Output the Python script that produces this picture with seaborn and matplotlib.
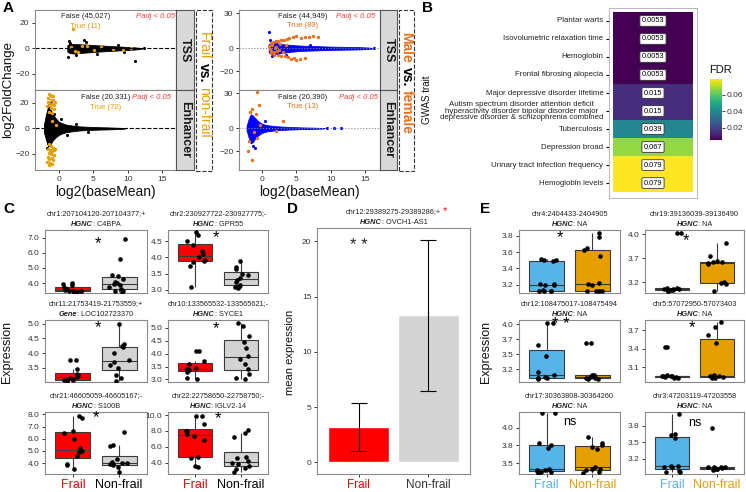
import numpy as np
import pandas as pd
import matplotlib
matplotlib.use("Agg")
import matplotlib.pyplot as plt
import seaborn as sns
from matplotlib.patches import Rectangle

# ---------------- panel A: MA plots (dense cloud = envelope, plus visible points) ----------------
fr_tss_env_x = [1.2, 1.5, 2, 3, 4, 5, 6, 7, 8, 9, 10, 11, 12]
fr_tss_env_hi = [2.5, 3.5, 3.5, 3.2, 3, 2.6, 2.3, 2, 1.7, 1.4, 1.1, 0.8, 0.3]
fr_tss_env_lo = [-2.5, -3.5, -4, -3.6, -3.2, -2.8, -2.4, -2.1, -1.8, -1.5, -1.2, -0.9, -0.3]
fr_tss_pts_x = [1.3, 1.6, 2.5, 3.6, 3.9, 1.4, 11.1, 5.5, 8.5, 12.3, 9.4]
fr_tss_pts_y = [-7, 4.5, -5, 6.5, 5, 5.5, -10, -4, 2.5, 0.5, -2.5]
fr_tss_true_x = [2.0, 2.8, 7.9, 9.3, 4.0, 5.1, 3.3, 6.1, 2.3, 1.8, 10.4]
fr_tss_true_y = [15, -3, -0.7, -1, 2, -1.5, 1.5, 1, -2, 1, 0.5]

fr_enh_env_x = [-2.2, -1.9, -1.6, -1.3, -1.0, -0.5, 0, 0.5, 1, 2, 3, 4, 5, 6, 7, 8, 9, 9.6]
fr_enh_env_hi = [3, 11, 17, 16, 12, 8, 5, 4, 3, 2.2, 1.6, 1.3, 1.1, 0.9, 0.8, 0.6, 0.4, 0.1]
fr_enh_env_lo = [-3, -9, -14, -13, -10, -7, -5, -3.8, -3, -2.2, -1.6, -1.3, -1.1, -0.9, -0.8, -0.6, -0.4, -0.1]
fr_enh_pts_x = [-1.5, -1.2, -1.8, 0.3, 1.2, 2.5, -0.7, 4.2]
fr_enh_pts_y = [19, 20, -15, 7, -5, 3.5, 11, -2.5]
fr_enh_true_x = [-1.5, -1.3, -1.1, -1.6, -1.2, -0.9, -1.4, -1.0, -0.7, -1.7, -1.2, -0.8, -1.5,
                 -1.0, -0.6, -1.3, -1.6, -0.9, -1.5, -1.2, -0.9, -1.6, -1.3, -1.0, -0.7, -1.5,
                 -1.2, -0.8, -1.6, -1.1, -1.4, -0.9, -1.7, -1.3, -1.0, -1.5, -1.2, -0.6, -1.0, -0.5]
fr_enh_true_y = [27, 26, 25.5, 24, 22, 22, 20, 19, 18, 17.5, 16, 15, 13, 12, 21, 18.5, 21, 25,
                 -12, -14, -15, -16, -17, -18, -17, -19, -20, -21, -22, -23, -24, -25, -26, -27,
                 -28, -28.5, -18.5, -16, 6, 3]

mf_tss_env_x = [1.0, 1.3, 2, 3, 4, 5, 6, 8, 10, 12, 14, 15.5, 16]
mf_tss_env_hi = [3.5, 5, 4.5, 3.5, 3, 2.5, 2.2, 1.8, 1.4, 1.2, 1, 0.6, 0.2]
mf_tss_env_lo = [-3.5, -5, -5, -4, -3.2, -2.6, -2.2, -1.8, -1.4, -1.2, -1, -0.6, -0.2]
mf_tss_pts_x = [1.0, 1.2, 1.5, 2.0, 16.3, 3.5, 7.0]
mf_tss_pts_y = [14, 7, -7, 6.5, 0, -5.5, 3]
mf_tss_true_x = [1.3, 1.6, 2.0, 2.4, 2.8, 3.2, 3.6, 4.0, 4.5, 5.0, 5.6, 6.2, 6.8, 7.4, 8.1,
                 1.4, 1.8, 2.3, 2.8, 3.3, 3.8, 4.2, 4.6, 5.0, 5.5, 6.2,
                 1.1, 1.3, 1.5, 1.7, 2.0, 2.2, 2.6, 3.0, 1.2, 1.9, 2.5, 3.5]
mf_tss_true_y = [4.5, 5.5, 6, 6.5, 7, 7.5, 8, 9, 9.5, 10.5, 9, 9.5, 10, 11, 10,
                 -4.5, -5.5, -6, -6.5, -7, -7.5, -9, -8.5, -10, -9, -8,
                 2, -2, 3, -3, 1.5, -2.5, 3.5, -3.5, -1, 0.5, -1.5, 2.5]

mf_enh_env_x = [-2.2, -1.9, -1.6, -1.3, -1.0, -0.5, 0, 0.5, 1, 2, 3, 4, 5, 6, 7, 8, 9]
mf_enh_env_hi = [2, 8, 12, 11, 9, 6, 4, 3, 2.5, 1.8, 1.4, 1.1, 0.9, 0.7, 0.6, 0.4, 0.2]
mf_enh_env_lo = [-2, -8, -13, -12, -9, -6, -4, -3, -2.5, -1.8, -1.4, -1.1, -0.9, -0.7, -0.6, -0.4, -0.2]
mf_enh_pts_x = [-1.3, -1.0, 9.5, 10.5, 11.5, 0.5]
mf_enh_pts_y = [-15, -17, 0, 0, 0.2, 6]
mf_enh_true_x = [-0.7, -0.45, -1.4, -1.7, -0.9, 3.1, -2.0, -1.4, -1.8, -0.7, -1.2, -0.3, 2.0]
mf_enh_true_y = [31, 20, 16.5, 14, 12, 6.5, -20, -27, -11, -8, -3, 3, -2]

# ---------------- panel B: GWAS enrichment ----------------
gwas_traits = ["Plantar warts", "Isovolumetric relaxation time", "Hemoglobin",
               "Frontal fibrosing alopecia", "Major depressive disorder lifetime",
               "Autism spectrum disorder attention deficit\nhyperactivity disorder bipolar disorder major\n"
               "depressive disorder & schizophrenia combined",
               "Tuberculosis", "Depression broad", "Urinary tract infection frequency", "Hemoglobin levels"]
gwas_fdr = [0.0053, 0.0053, 0.0053, 0.0053, 0.015, 0.015, 0.039, 0.067, 0.079, 0.079]

# ---------------- panel C: frail vs non-frail boxplots ----------------
c_titles = ["chr1:207104120-207104377;+", "chr2:230927722-230927775;-",
            "chr11:21753419-21753559;+", "chr10:133565532-133565621;-",
            "chr21:46605059-46605167;-", "chr22:22758650-22758750;-"]
c_gene_src = ["HGNC", "HGNC", "Gene", "HGNC", "HGNC", "HGNC"]
c_genes = ["C4BPA", "GPR55", "LOC102723370", "SYCE1", "S100B", "IGLV2-14"]
c11_frail = [3.42, 3.43, 3.45, 3.45, 3.48, 3.5, 3.55, 3.6, 3.75, 3.85, 3.95, 4.0]
c11_non = [3.42, 3.45, 3.5, 3.6, 3.75, 3.9, 3.95, 4.0, 4.1, 4.3, 4.45, 4.55, 5.6, 6.9]
c12_frail = [3.1, 3.75, 3.85, 3.9, 3.92, 4.0, 4.1, 4.2, 4.4, 4.5, 4.7, 4.8]
c12_non = [3.05, 3.1, 3.12, 3.15, 3.25, 3.3, 3.35, 3.45, 3.5, 3.65, 3.7, 3.9]
c21_frail = [3.05, 3.08, 3.1, 3.1, 3.12, 3.15, 3.2, 3.25, 3.3, 3.45, 3.75, 3.78]
c21_non = [3.05, 3.15, 3.25, 3.5, 3.6, 3.7, 3.75, 4.0, 4.2, 4.25, 4.3, 5.0]
c22_frail = [3.0, 3.05, 3.3, 3.35, 3.35, 3.4, 3.4, 3.45, 3.6, 3.7, 4.1, 4.1]
c22_non = [3.0, 3.05, 3.2, 3.4, 3.6, 3.8, 3.9, 4.2, 4.45, 4.7, 5.05, 5.2]
c31_frail = [3.5, 3.8, 3.9, 4.6, 4.9, 5.0, 5.2, 6.0, 6.5, 6.6, 7.7, 7.9]
c31_non = [3.3, 3.7, 3.8, 3.9, 3.95, 4.0, 4.0, 4.1, 4.35, 5.4, 5.45, 6.55]
c32_frail = [3.4, 3.5, 4.6, 4.7, 6.8, 7.3, 7.6, 8.0, 8.0, 8.9, 9.9, 9.9]
c32_non = [2.8, 3.2, 3.3, 3.6, 3.8, 4.0, 4.2, 4.6, 4.7, 7.2, 7.8, 8.1]
c_marks = ["*", "*", "*", "*", "*", "*"]

# ---------------- panel D: mean expression ----------------
d_title = "chr12:29389275-29389286;+"
d_gene = "OVCH1-AS1"
d_groups = ["Frail", "Non-frail"]
d_means = [3.2, 13.3]
d_low = [1.07, 6.5]
d_high = [5.35, 20.1]

# ---------------- panel E: frail vs non-frail (second set) ----------------
e_titles = ["chr4:2404433-2404905", "chr19:39136039-39136490", "chr12:108475017-108475494",
            "chr5:57072950-57073403", "chr17:30363808-30364260", "chr3:47203119-47203558"]
e_genes = ["NA"] * 6
e11_frail = [3.12, 3.12, 3.13, 3.13, 3.14, 3.2, 3.2, 3.21, 3.21, 3.49, 3.5, 3.5, 3.51]
e11_non = [3.12, 3.12, 3.12, 3.13, 3.2, 3.21, 3.22, 3.55, 3.62, 3.65, 3.78, 3.83]
e12_frail = [3.06, 3.06, 3.07, 3.07, 3.08, 3.08, 3.09, 3.1, 3.1, 4.02, 4.02]
e12_non = [3.06, 3.17, 3.18, 3.2, 3.5, 3.52, 3.53, 3.54, 3.55, 3.63, 3.85]
e21_frail = [3.97, 3.97, 3.6, 3.43, 3.15, 3.1, 3.08, 3.06, 3.05, 3.05, 3.04]
e21_non = [3.63, 3.63, 3.1, 3.1, 3.08, 3.07, 3.06, 3.05, 3.04, 3.04]
e22_frail = [3.43, 3.43, 2.97, 2.96, 2.96, 2.95, 2.95, 2.94, 2.94, 2.93, 2.93]
e22_non = [3.84, 3.76, 3.62, 3.5, 2.97, 2.96, 2.95, 2.95, 2.94, 2.93, 2.92]
e31_frail = [4.2, 4.2, 3.79, 3.75, 3.72, 3.42, 3.41, 3.4, 3.39, 3.38, 3.38, 3.37]
e31_non = [3.87, 3.78, 3.76, 3.73, 3.7, 3.45, 3.42, 3.42, 3.4, 3.38, 3.37]
e32_frail = [4.02, 3.65, 3.63, 3.57, 3.06, 3.06, 3.05, 3.05, 2.97, 2.96, 2.96]
e32_non = [3.76, 3.05, 3.05, 3.04, 3.04, 3.03, 3.03, 3.02, 3.02, 3.01, 3.0]
e_marks = ["*", "*", "* *", "*", "ns", "ns"]
e_ticklabels = [["3.2", "3.4", "3.6", "3.8"], ["3.2", "3.7", "4.0"], ["3.2", "3.5", "3.7", "4.0"],
                ["3.1", "3.4", "3.7"], ["3.5", "3.8", "4.0"], ["3.2", "3.5", "3.8"]]

# ---------------- colours ----------------
FRAIL_ORANGE = "#E69F00"
SEX_ORANGE = "#E8711D"
PADJ_RED = "#FF3B3B"
C_PAL = ["#FF0000", "#D3D3D3"]
E_PAL = ["#56B4E9", "#E69F00"]
SPINE = "#8a8a8a"

sns.set_theme(style="ticks")
plt.rcParams["font.family"] = ["Liberation Sans", "DejaVu Sans"]

W, H = 746, 492
fig = plt.figure(figsize=(W / 100, H / 100), dpi=100)
np.random.seed(3)  # only for horizontal jitter of points


def px_ax(x0, y0, x1, y1):
    return fig.add_axes([x0 / W, 1 - y1 / H, (x1 - x0) / W, (y1 - y0) / H])


def style(ax):
    for s in ax.spines.values():
        s.set_visible(True)
        s.set_color(SPINE)
        s.set_linewidth(0.8)
    ax.tick_params(labelsize=6, length=2.5, width=0.7, pad=1.5, color="#333333", labelcolor="#333333")


title_pairs = []


def two_line_title(ax, line1, src, gene, fs=5.3):
    t0 = ax.annotate(line1, xy=(0.5, 1), xycoords="axes fraction", xytext=(0, 16),
                     textcoords="offset pixels", ha="center", va="center", fontsize=fs, color="#222222")
    t1 = ax.annotate(src, xy=(0.5, 1), xycoords="axes fraction", xytext=(0, 6),
                     textcoords="offset pixels", ha="right", va="center", fontsize=fs,
                     fontweight="bold", fontstyle="italic", color="#222222")
    t2 = ax.annotate(": " + gene, xy=(1, 0.5), xycoords=t1, ha="left", va="center",
                     fontsize=fs, color="#222222")
    title_pairs.append((t1, t2, 6))
    return t0


# ======== panel A ========
def ma_panel(ax, ex, ehi, elo, px_, py_, tx, ty, cloud, tcol, ylim, yticks, zero_ls, zero_col, bottom):
    ax.fill_between(ex, elo, ehi, color=cloud, lw=0.6, edgecolor=cloud)
    sns.scatterplot(x=px_, y=py_, ax=ax, color=cloud, s=5, linewidth=0, legend=False)
    sns.scatterplot(x=tx, y=ty, ax=ax, color=tcol, s=6, linewidth=0, legend=False)
    ax.axhline(0, ls=zero_ls, color=zero_col, lw=0.8)
    ax.set_ylim(ylim)
    ax.set_yticks(yticks)
    ax.set_xticks([0, 5, 10, 15])
    style(ax)
    if not bottom:
        ax.tick_params(axis="x", bottom=False, labelbottom=False)


aL1 = px_ax(35, 10, 176, 90)
aL2 = px_ax(35, 90, 176, 170)
aR1 = px_ax(239, 10, 380, 90)
aR2 = px_ax(239, 90, 380, 170)
ma_panel(aL1, fr_tss_env_x, fr_tss_env_hi, fr_tss_env_lo, fr_tss_pts_x, fr_tss_pts_y,
         fr_tss_true_x, fr_tss_true_y, "black", FRAIL_ORANGE, (-32.5, 30), [-20, 0, 20], "--", "black", False)
ma_panel(aL2, fr_enh_env_x, fr_enh_env_hi, fr_enh_env_lo, fr_enh_pts_x, fr_enh_pts_y,
         fr_enh_true_x, fr_enh_true_y, "black", FRAIL_ORANGE, (-32.5, 30), [-20, 0, 20], "--", "black", True)
ma_panel(aR1, mf_tss_env_x, mf_tss_env_hi, mf_tss_env_lo, mf_tss_pts_x, mf_tss_pts_y,
         mf_tss_true_x, mf_tss_true_y, "#0000FF", SEX_ORANGE, (-36, 33), [-20, 0, 30], ":", "#888888", False)
ma_panel(aR2, mf_enh_env_x, mf_enh_env_hi, mf_enh_env_lo, mf_enh_pts_x, mf_enh_pts_y,
         mf_enh_true_x, mf_enh_true_y, "#0000FF", SEX_ORANGE, (-36, 33), [-20, 0, 30], ":", "#888888", True)
for a in (aL1, aL2):
    a.set_xlim(-3.5, 17)
for a in (aR1, aR2):
    a.set_xlim(-3.3, 17.1)

for a, (fx, fy, fl), (tx, ty, tl), (qx, qy), tc in [
        (aL1, (3.8, 25, "False (45,027)"), (3.8, 17, "True (11)"), (14, 25), FRAIL_ORANGE),
        (aL2, (6.7, 24, "False (20,331)"), (6.7, 16, "True (72)"), (13.5, 24), FRAIL_ORANGE),
        (aR1, (5.9, 27.5, "False (44,949)"), (5.9, 20, "True (89)"), (13.6, 27.5), SEX_ORANGE),
        (aR2, (5.9, 26.5, "False (20,390)"), (5.9, 19, "True (13)"), (14, 26.5), SEX_ORANGE)]:
    a.text(fx, fy, fl, ha="center", va="center", fontsize=5.5, color="#222222")
    a.text(tx, ty, tl, ha="center", va="center", fontsize=5.5, color=tc)
    a.text(qx, qy, "Padj < 0.05", ha="center", va="center", fontsize=5.5, color=PADJ_RED, fontstyle="italic")

for (x0, x1) in [(176, 194), (380, 397)]:
    for (y0, y1), lab in [((10, 90), "TSS"), ((90, 170), "Enhancer")]:
        s = px_ax(x0, y0, x1, y1)
        s.set_facecolor("#D9D9D9")
        s.set_xticks([])
        s.set_yticks([])
        for sp in s.spines.values():
            sp.set_color("#555555")
            sp.set_linewidth(0.8)
        s.text(0.5, 0.5, lab, rotation=-90, ha="center", va="center", fontsize=9,
               fontweight="bold", color="#1a1a1a", transform=s.transAxes)

# ======== panel B ========
axB = px_ax(609, 8, 697, 198)
axCb = px_ax(710, 79, 722, 140)
hm = pd.DataFrame({"FDR": gwas_fdr}, index=gwas_traits)
annot = np.array([[f"{v:g}"] for v in gwas_fdr])
sns.heatmap(hm, ax=axB, cbar_ax=axCb, cmap="viridis", vmin=min(gwas_fdr), vmax=max(gwas_fdr),
            annot=annot, fmt="", xticklabels=False, yticklabels=True,
            annot_kws=dict(fontsize=5.3, color="black",
                           bbox=dict(boxstyle="round,pad=0.25,rounding_size=0.15", fc="white",
                                     ec="#333333", lw=0.6)))
axB.set_xlim(-0.05, 1.05)
axB.set_ylim(10.33, -0.22)
axB.set_ylabel("")
for s in axB.spines.values():
    s.set_visible(True)
    s.set_color("#BBBBBB")
    s.set_linewidth(0.8)
axB.tick_params(axis="y", left=True, length=2.5, width=0.8, pad=1.5, labelsize=5.7,
                color="black", labelcolor="#222222")
axB.tick_params(axis="x", bottom=False)
for lbl in axB.get_yticklabels():
    lbl.set_rotation(0)
    lbl.set_ha("right")
    lbl.set_multialignment("center")
    lbl.set_linespacing(0.95)
cb = axB.collections[0].colorbar
cb.set_ticks([0.02, 0.04, 0.06])
cb.ax.tick_params(labelsize=6, length=2, width=0.6, pad=1, labelcolor="#333333")
cb.outline.set_visible(False)


# ======== panels C and E ========
def box_panel(ax, frail, non, pal, ylim, yticks, ylabels, mark, mark_xy, bottom):
    df = pd.DataFrame({"grp": ["Frail"] * len(frail) + ["Non-frail"] * len(non),
                       "val": list(frail) + list(non)})
    sns.boxplot(data=df, x="grp", y="val", hue="grp", palette=pal, width=0.75, showfliers=False,
                showcaps=False, linewidth=0.8, linecolor="#3a3a3a", saturation=1, legend=False, ax=ax)
    sns.stripplot(data=df, x="grp", y="val", color="black", size=3.3, jitter=0.22, ax=ax)
    ax.set_xlim(-0.6, 1.6)
    ax.set_ylim(ylim)
    ax.set_yticks(yticks)
    ax.set_yticklabels(ylabels)
    ax.set_xlabel("")
    ax.set_ylabel("")
    style(ax)
    ax.text(mark_xy[0], mark_xy[1], mark, ha="center", va="center",
            fontsize=12 if "*" in mark else 9, color="black")
    if bottom:
        ax.set_xticks([0, 1])
        ax.set_xticklabels(["Frail", "Non-frail"], fontsize=9)
        ax.tick_params(axis="x", pad=1)
    else:
        ax.set_xticks([])


rows_y = [(230, 293), (320, 382), (412, 474)]
c_cols = [(45, 147), (168, 268)]
e_cols = [(519, 620), (645, 744)]

c_sets = [(c11_frail, c11_non), (c12_frail, c12_non), (c21_frail, c21_non),
          (c22_frail, c22_non), (c31_frail, c31_non), (c32_frail, c32_non)]
c_ylims = [(3.35, 7.5), (2.9, 4.85), (3.02, 5.12), (2.9, 5.3), (3.1, 8.2), (2.55, 10.4)]
c_yticks = [[4, 5, 6, 7], [3.0, 3.5, 4.0, 4.5], [3.5, 4.0, 4.5, 5.0],
            [3.0, 3.5, 4.0, 4.5, 5.0], [4, 5, 6, 7, 8], [4, 6, 8, 10]]
c_mark_xy = [(0.55, 6.6), (0.45, 4.6), (0.55, 4.85), (0.45, 4.95), (0.5, 7.7), (0.5, 9.6)]

for i, (fr, nf) in enumerate(c_sets):
    r, c = divmod(i, 2)
    ax = px_ax(c_cols[c][0], rows_y[r][0], c_cols[c][1], rows_y[r][1])
    box_panel(ax, fr, nf, C_PAL, c_ylims[i], c_yticks[i], [f"{t:.1f}" for t in c_yticks[i]],
              c_marks[i], c_mark_xy[i], r == 2)
    two_line_title(ax, c_titles[i], c_gene_src[i], c_genes[i])
    if r == 2:
        xt = ax.get_xticklabels()
        xt[0].set_color(C_PAL[0])
        xt[1].set_color("black")

e_sets = [(e11_frail, e11_non), (e12_frail, e12_non), (e21_frail, e21_non),
          (e22_frail, e22_non), (e31_frail, e31_non), (e32_frail, e32_non)]
e_ylims = [(3.1, 3.87), (3.02, 4.07), (2.99, 4.02), (2.86, 3.87), (3.35, 4.22), (2.92, 4.05)]
e_yticks = [[3.2, 3.4, 3.6, 3.8], [3.2, 3.6, 4.0], [3.2, 3.45, 3.7, 3.95],
            [3.1, 3.4, 3.7], [3.5, 3.75, 4.0], [3.2, 3.5, 3.8]]
e_mark_xy = [(0.3, 3.78), (0.3, 3.9), (0.3, 3.95), (0.45, 3.75), (0.5, 4.08), (0.5, 3.85)]

for i, (fr, nf) in enumerate(e_sets):
    r, c = divmod(i, 2)
    ax = px_ax(e_cols[c][0], rows_y[r][0], e_cols[c][1], rows_y[r][1])
    box_panel(ax, fr, nf, E_PAL, e_ylims[i], e_yticks[i], e_ticklabels[i],
              e_marks[i], e_mark_xy[i], r == 2)
    two_line_title(ax, e_titles[i], "HGNC", e_genes[i])
    if r == 2:
        xt = ax.get_xticklabels()
        xt[0].set_color(E_PAL[0])
        xt[1].set_color(E_PAL[1])

# ======== panel D ========
axD = px_ax(317, 228, 470, 474)
sns.barplot(x=d_groups, y=d_means, hue=d_groups, palette=C_PAL, saturation=1, width=0.88,
            errorbar=None, legend=False, ax=axD)
xpos = np.arange(len(d_groups))
axD.errorbar(xpos, d_means, yerr=[np.subtract(d_means, d_low), np.subtract(d_high, d_means)],
             fmt="none", ecolor="black", elinewidth=0.8, capsize=5.5, capthick=0.8)
axD.set_xlim(-0.6, 1.6)
axD.set_ylim(-1.05, 21.2)
axD.set_yticks([0, 5, 10, 15, 20])
style(axD)
axD.set_xticks(xpos)
axD.set_xticklabels(d_groups, fontsize=8.5)
axD.tick_params(axis="x", pad=1)
axD.get_xticklabels()[0].set_color("#FF0000")
axD.text(0, 19.6, "* *", ha="center", va="center", fontsize=12)
tD = two_line_title(axD, d_title, "HGNC", d_gene)
axD.annotate("*", xy=(1, 0.5), xycoords=tD, xytext=(2, 1), textcoords="offset pixels",
             ha="left", va="center", color="red", fontsize=8)

# ======== free text overlay ========
ov = fig.add_axes([0, 0, 1, 1])
ov.set_xlim(0, 1)
ov.set_ylim(0, 1)
ov.axis("off")


def ftext(x, y, s, **kw):
    return ov.text(x / W, 1 - y / H, s, **kw)


for lab, (x, y) in zip("ABCDE", [(8, 8), (427, 8), (9, 209), (292, 209), (485, 209)]):
    ftext(x, y, lab, ha="center", va="center", fontsize=11, fontweight="bold", color="black")

ftext(8, 90, "log2FoldChange", rotation=90, ha="center", va="center", fontsize=9.5, color="#111111")
ftext(105, 192, "log2(baseMean)", ha="center", va="center", fontsize=10, color="#111111")
ftext(309, 192, "log2(baseMean)", ha="center", va="center", fontsize=10, color="#111111")
ftext(427, 100, "GWAS trait", rotation=90, ha="center", va="center", fontsize=7, color="#111111")
ftext(709, 70, "FDR", ha="left", va="center", fontsize=8, color="#111111")
ftext(7, 352, "Expression", rotation=90, ha="center", va="center", fontsize=9, color="#111111")
ftext(486, 352, "Expression", rotation=90, ha="center", va="center", fontsize=9, color="#111111")
ftext(290, 352, "mean expression", rotation=90, ha="center", va="center", fontsize=8, color="#111111")

for (x0, x1) in [(196, 212), (399, 414)]:
    ov.add_patch(Rectangle((x0 / W, 1 - 171 / H), (x1 - x0) / W, 161 / H, fill=False,
                           ls="--", lw=0.8, ec="#333333"))


def vertical_words(x, ytop, parts, fs):
    prev = None
    for txt, col, wt in parts:
        if prev is None:
            prev = ftext(x, ytop, txt, rotation=-90, ha="center", va="top", fontsize=fs,
                         color=col, fontweight=wt)
        else:
            prev = ov.annotate(txt, xy=(0.5, 0), xycoords=prev, xytext=(0, -4),
                               textcoords="offset pixels", rotation=-90, ha="center", va="top",
                               fontsize=fs, color=col, fontweight=wt)


vertical_words(204, 32, [("Frail", FRAIL_ORANGE, "normal"), ("vs.", "black", "bold"),
                         ("non-frail", FRAIL_ORANGE, "normal")], 10)
vertical_words(406.5, 32, [("Male", SEX_ORANGE, "bold"), ("vs.", "black", "bold"),
                           ("female", SEX_ORANGE, "bold")], 10)

# centre the two-part gene lines
fig.canvas.draw()
for t1, t2, off in title_pairs:
    w1 = t1.get_window_extent().width
    w2 = t2.get_window_extent().width
    t1.xyann = ((w1 - w2) / 2, off)

fig.savefig("out.png", dpi=100)
